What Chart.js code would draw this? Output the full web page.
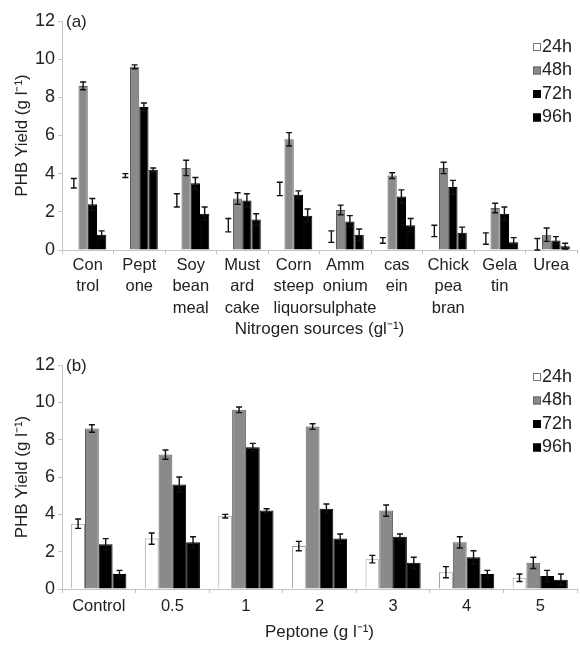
<!DOCTYPE html>
<html>
<head>
<meta charset="utf-8">
<script src="https://cdn.jsdelivr.net/npm/chart.js@4.4.1/dist/chart.umd.min.js"></script>
<style>
  body { margin: 0; background: #fff; }
  .box { position: absolute; left: 0; width: 580px; }
</style>
</head>
<body>
<div class="box" style="top:0;height:340px"><canvas id="chartA"></canvas></div>
<div class="box" style="top:340px;height:306px"><canvas id="chartB"></canvas></div>
<script>
// ---- data (a): nitrogen sources ----
var sourceLabels = [['Con','trol'], ['Pept','one'], ['Soy','bean','meal'], ['Must','ard','cake'], ['Corn','steep','liquor'],
  ['Amm','onium','sulphate'], ['cas','ein'], ['Chick','pea','bran'], ['Gela','tin'], ['Urea']];
var a24 = [3.5, 3.9, 2.6, 1.3, 3.2, 0.7, 0.5, 1.0, 0.6, 0.3];
var a48 = [8.6, 9.6, 4.3, 2.7, 5.8, 2.1, 3.9, 4.3, 2.2, 0.8];
var a72 = [2.4, 7.5, 3.5, 2.6, 2.9, 1.5, 2.8, 3.3, 1.9, 0.5];
var a96 = [0.8, 4.2, 1.9, 1.6, 1.8, 0.8, 1.3, 0.9, 0.4, 0.2];
var a24err = [0.25, 0.1, 0.35, 0.35, 0.35, 0.3, 0.15, 0.3, 0.3, 0.3];
var a48err = [0.2, 0.1, 0.4, 0.3, 0.35, 0.25, 0.15, 0.3, 0.25, 0.35];
var a72err = [0.3, 0.2, 0.3, 0.35, 0.2, 0.3, 0.35, 0.35, 0.35, 0.2];
var a96err = [0.2, 0.1, 0.35, 0.3, 0.35, 0.3, 0.35, 0.3, 0.25, 0.15];

// ---- data (b): peptone concentration ----
var peptoneLabels = ['Control', '0.5', '1', '2', '3', '4', '5'];
var b24 = [3.5, 2.7, 3.9, 2.3, 1.6, 0.9, 0.6];
var b48 = [8.6, 7.2, 9.6, 8.7, 4.2, 2.5, 1.4];
var b72 = [2.4, 5.6, 7.6, 4.3, 2.8, 1.7, 0.7];
var b96 = [0.8, 2.5, 4.2, 2.7, 1.4, 0.8, 0.5];
var b24err = [0.25, 0.3, 0.1, 0.25, 0.2, 0.3, 0.2];
var b48err = [0.2, 0.25, 0.15, 0.15, 0.3, 0.3, 0.3];
var b72err = [0.3, 0.4, 0.2, 0.25, 0.15, 0.35, 0.3];
var b96err = [0.2, 0.3, 0.1, 0.25, 0.3, 0.2, 0.3];

var yTicks = [0, 2, 4, 6, 8, 10, 12];
var seriesNames = ['24h', '48h', '72h', '96h'];

var FONT = "'Liberation Sans Narrow', 'Liberation Sans', Arial, sans-serif";
var TXT = '#222';
var AXIS = '#c4c4c4';

// error bars drawn on top of every bar
var errorBars = {
  id: 'errorBars',
  afterDatasetsDraw: function(chart) {
    var ctx = chart.ctx, y = chart.scales.y;
    ctx.save();
    ctx.strokeStyle = '#111';
    ctx.lineWidth = 1.4;
    chart.data.datasets.forEach(function(ds, i) {
      var meta = chart.getDatasetMeta(i);
      meta.data.forEach(function(bar, j) {
        var v = ds.data[j], e = ds.err[j];
        var top = y.getPixelForValue(v + e), bot = y.getPixelForValue(v - e);
        ctx.beginPath();
        ctx.moveTo(bar.x, top); ctx.lineTo(bar.x, bot);
        ctx.moveTo(bar.x - 3, top); ctx.lineTo(bar.x + 3, top);
        ctx.moveTo(bar.x - 3, bot); ctx.lineTo(bar.x + 3, bot);
        ctx.stroke();
      });
    });
    ctx.restore();
  }
};

// panel tag and legend in top right
var decor = {
  id: 'decor',
  afterDraw: function(chart) {
    var ctx = chart.ctx, area = chart.chartArea, o = chart.options.plugins.decor;
    ctx.save();
    ctx.fillStyle = TXT;
    ctx.font = '17px ' + FONT;
    ctx.textBaseline = 'middle';
    ctx.fillText(o.tag, area.left + 4, area.top + 1);
    ctx.font = '18px ' + FONT;
    chart.data.datasets.forEach(function(ds, i) {
      var cy = o.legendTop + i * 23.5;
      ctx.fillStyle = ds.legendFill;
      ctx.fillRect(533, cy - 4, 8, 8);
      ctx.strokeStyle = ds.legendStroke;
      ctx.lineWidth = 1;
      ctx.strokeRect(533.5, cy - 3.5, 7, 7);
      ctx.fillStyle = TXT;
      ctx.fillText(ds.label, 542, cy);
    });
    ctx.restore();
  }
};

function makeSets(vals, errs, whiteBorder) {
  var fills = ['#ffffff', '#8a8a8a', '#000000', '#000000'];
  var borders = [whiteBorder, '#5e5e5e', '#000000', '#000000'];
  var legendStroke = ['#777', '#666', '#000', '#000'];
  var legendFill = ['#fff', '#8a8a8a', '#000', '#000'];
  return vals.map(function(v, i) {
    return {
      label: seriesNames[i], data: v, err: errs[i],
      backgroundColor: fills[i], borderColor: borders[i], borderWidth: 1,
      legendFill: legendFill[i], legendStroke: legendStroke[i]
    };
  });
}

function makeChart(id, labels, sets, opts) {
  return new Chart(document.getElementById(id), {
    type: 'bar',
    data: { labels: labels, datasets: sets },
    plugins: [errorBars, decor],
    options: {
      responsive: true,
      maintainAspectRatio: false,
      animation: false,
      categoryPercentage: opts.catPct,
      barPercentage: 1.0,
      layout: { padding: { top: opts.padTop, right: 3, left: 0, bottom: 0 } },
      plugins: {
        legend: { display: false },
        tooltip: { enabled: false },
        decor: { tag: opts.tag, legendTop: opts.legendTop }
      },
      scales: {
        x: {
          afterFit: function(s) { s.height = opts.xHeight; },
          grid: { display: true, offset: true, drawOnChartArea: false, tickLength: 4, color: AXIS },
          border: { color: AXIS },
          ticks: { color: TXT, padding: opts.xPad, maxRotation: 0, autoSkip: false,
                   font: { family: FONT, size: 16.5, lineHeight: 1.33 } },
          title: { display: true, text: opts.xTitle, color: TXT, padding: { top: 0, bottom: opts.titlePad },
                   font: { family: FONT, size: 17 } }
        },
        y: {
          min: 0, max: 12,
          afterFit: function(s) { s.width = 62; },
          afterBuildTicks: function(s) { s.ticks = yTicks.map(function(v) { return { value: v }; }); },
          grid: { drawOnChartArea: false, tickLength: 4, color: AXIS },
          border: { color: AXIS },
          ticks: { color: TXT, padding: 3, font: { family: FONT, size: 18 } },
          title: { display: true, text: 'PHB Yield (g l\u207B\u00B9)', color: TXT, padding: { top: 12, bottom: 0 },
                   font: { family: FONT, size: 17 } }
        }
      }
    }
  });
}

makeChart('chartA', sourceLabels, makeSets([a24, a48, a72, a96], [a24err, a48err, a72err, a96err], 'rgba(0,0,0,0)'), {
  catPct: 0.72, padTop: 21, xHeight: 90, xPad: 0, tag: '(a)', legendTop: 47,
  xTitle: 'Nitrogen sources (gl\u207B\u00B9)', titlePad: 0
});

makeChart('chartB', peptoneLabels, makeSets([b24, b48, b72, b96], [b24err, b48err, b72err, b96err], '#9a9a9a'), {
  catPct: 0.75, padTop: 25, xHeight: 57, xPad: 2, tag: '(b)', legendTop: 37,
  xTitle: 'Peptone (g l\u207B\u00B9)', titlePad: 3
});
</script>
</body>
</html>
